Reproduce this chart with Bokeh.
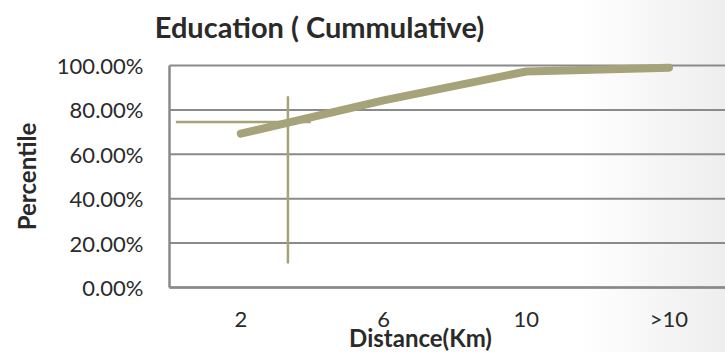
from bokeh.plotting import figure
from bokeh.models import Range1d, FixedTicker, NumeralTickFormatter, Label
from bokeh.embed import file_html
from bokeh.resources import INLINE

# Cumulative share of education trips by distance band
distance_labels = ["2", "6", "10", ">10"]
cumulative_share = [0.693, 0.843, 0.973, 0.990]
percent_ticks = [0, 0.2, 0.4, 0.6, 0.8, 1.0]

# Reference cross marking the share reached at roughly 3.3 km
marker_x = 0.33
marker_y = 0.745
marker_h_span = [-0.455, 0.49]
marker_v_span = [0.108, 0.861]

positions = list(range(len(distance_labels)))

# Plot area in category units: from half a band left of "2" to the right edge
area_left, area_right = -0.5, 3.4

FONT = "Lato"
TEXT = "#2a2a2a"
GRID = "#8a8a8a"
SERIES = "#a6a27a"

# The frame covers the whole canvas so the titles can sit inside it;
# both axes are pinned to the plot-area edges.
p = figure(
    width=725, height=352,
    x_range=Range1d(-1.684, 3.396), y_range=Range1d(-0.2928, 1.2928),
    output_backend="svg", toolbar_location=None,
    min_border_left=0, min_border_right=0,
    min_border_top=0, min_border_bottom=0,
)
p.border_fill_color = None
p.background_fill_color = None
p.outline_line_color = None
p.styles = {"background": "linear-gradient(to right, #ffffff 0%, #ffffff 80%, #eeeeee 100%)"}
p.xgrid.grid_line_color = None
p.ygrid.grid_line_color = None

# Horizontal gridlines across the plot area
p.segment(x0=[area_left] * len(percent_ticks), y0=percent_ticks,
          x1=[area_right] * len(percent_ticks), y1=percent_ticks,
          line_color=GRID, line_width=2)

# Distance axis drawn on the 0 % line
xa = p.xaxis[0]
xa.fixed_location = 0
xa.bounds = (area_left, area_right)
xa.ticker = FixedTicker(ticks=positions)
xa.major_label_overrides = {i: lab for i, lab in zip(positions, distance_labels)}
xa.major_label_standoff = 18

# Percentage axis on the left edge of the plot area
ya = p.yaxis[0]
ya.fixed_location = area_left
ya.bounds = (0, 1)
ya.ticker = FixedTicker(ticks=percent_ticks)
ya.formatter = NumeralTickFormatter(format="0.00%")
ya.major_label_standoff = 26

for ax in (xa, ya):
    ax.major_tick_out = 0
    ax.major_tick_in = 0
    ax.minor_tick_out = 0
    ax.minor_tick_in = 0
    ax.axis_line_color = GRID
    ax.axis_line_width = 2.5
    ax.major_label_text_font = FONT
    ax.major_label_text_font_size = "22px"
    ax.major_label_text_color = TEXT

ya.axis_label = "Percentile"
ya.axis_label_text_font = FONT
ya.axis_label_text_font_style = "bold"
ya.axis_label_text_font_size = "24px"
ya.axis_label_text_color = TEXT
ya.axis_label_standoff = 13

# Reference cross
p.segment(x0=[marker_h_span[0]], y0=[marker_y], x1=[marker_h_span[1]], y1=[marker_y],
          line_color=SERIES, line_width=2.5)
p.segment(x0=[marker_x], y0=[marker_v_span[0]], x1=[marker_x], y1=[marker_v_span[1]],
          line_color=SERIES, line_width=2.5)

# Cumulative curve
p.line(x=positions, y=cumulative_share, line_color=SERIES, line_width=8,
       line_cap="round", line_join="round")

# Chart title and distance-axis title
p.add_layout(Label(x=319, y=326, x_units="screen", y_units="screen",
                   text="Education ( Cummulative)", text_font=FONT,
                   text_font_style="bold", text_font_size="29px",
                   text_color=TEXT, text_align="center", text_baseline="alphabetic"))
p.add_layout(Label(x=420, y=15, x_units="screen", y_units="screen",
                   text="Distance(Km)", text_font=FONT,
                   text_font_style="bold", text_font_size="24px",
                   text_color=TEXT, text_align="center", text_baseline="alphabetic"))

open("out.html", "w").write(file_html(p, INLINE))
